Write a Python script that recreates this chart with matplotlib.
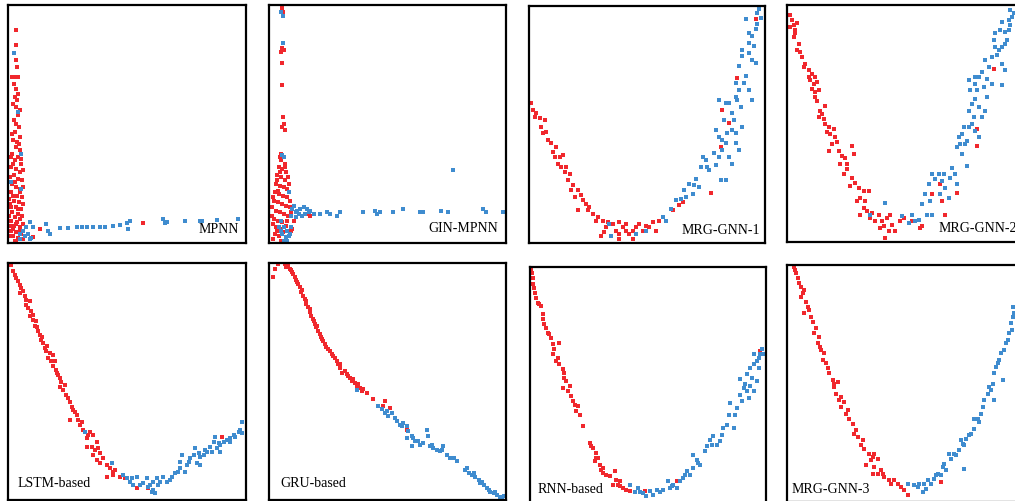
import matplotlib
matplotlib.use("Agg")
import matplotlib.pyplot as plt

plt.rcParams['font.family'] = ['Liberation Serif', 'DejaVu Serif']

RED = '#f0282d'
BLUE = '#3f8ccf'

# t-SNE embedding coordinates (arbitrary units, y grows downward)
mpnn_red = [(48,90),(50,135),(48,180),(52,200),(45,230),(55,230),(42,250),(50,265),(45,290),(52,300),
            (48,320),(55,345),(42,360),(50,370),(58,380),(45,395),(62,410),(40,420),(52,425),(48,440),
            (60,450),(38,460),(55,470),(45,480),(65,490),(35,500),(50,505),(60,515),(42,525),(55,535),
            (68,540),(38,550),(48,560),(62,565),(35,575),(52,585),(66,590),(42,600),(58,605),(30,610),
            (48,620),(65,625),(38,635),(55,640),(45,650),(62,655),(35,660),(52,665),(42,675),(60,680),
            (35,690),(50,695),(65,700),(40,705),(55,712),(45,720),(100,710),(120,685),(428,668),
            (36,400),(58,430),(34,470),(64,475),(40,490),(70,510),(32,530),(47,545),(70,560),(40,585),
            (60,575),(28,595),(70,610),(35,620),(55,625),(28,645),(68,645),(48,670),(30,675),(70,670),
            (40,685),(60,692),(30,705),(70,715),(50,725),(38,230),(55,280),(40,310),(60,330)]
mpnn_blue = [(42,158),(55,335),(65,460),(35,545),(65,565),(60,700),(70,690),(80,680),(60,715),(90,715),
             (75,705),(90,665),(100,680),(85,700),(95,712),(140,670),(145,690),(150,700),(180,683),(205,683),
             (230,680),(245,680),(260,680),(280,678),(300,678),(315,678),(340,675),(360,672),(380,668),
             (385,685),(390,662),(490,655),(495,668),(500,665),(555,662),(600,660),(605,662),(650,658),(712,655)]

gin_red = [(65,25),(68,35),(65,145),(70,150),(62,155),(65,190),(65,255),(67,350),(70,370),(65,380),
           (72,390),(62,460),(68,470),(60,480),(72,490),(55,500),(65,505),(75,515),(50,525),(62,530),
           (72,540),(45,550),(58,555),(70,560),(80,565),(42,575),(55,580),(68,585),(78,590),(40,600),
           (52,605),(65,610),(75,615),(88,620),(45,630),(58,635),(70,640),(82,645),(40,655),(52,660),
           (65,665),(100,660),(45,680),(58,685),(95,685),(90,690),(42,700),(55,705),(150,645),(140,640),
           (48,540),(85,550),(38,590),(88,600),(35,620),(92,635),(35,645),(78,660),(36,670),(75,675),
           (50,690),(68,695),(38,715),(62,720),(58,470),(74,500),(58,515),(82,530),(52,570)]
gin_blue = [(62,35),(68,48),(68,128),(65,465),(70,470),(60,660),(55,680),(85,575),(100,615),(95,625),
            (110,630),(120,625),(130,620),(140,625),(150,630),(115,640),(125,645),(135,640),(90,645),(105,650),
            (70,680),(80,690),(65,700),(75,710),(85,705),(90,680),(70,720),(180,640),(200,635),(210,640),
            (240,635),(230,645),(310,635),(345,630),(350,640),(360,635),(400,633),(430,625),(480,635),
            (490,635),(545,630),(565,635),(580,508),(670,625),(680,635),(730,635),
            (145,635),(105,635),(160,640),(60,690),(88,700),(80,720)]

mrg1_red = [(35,310),(40,330),(50,340),(60,355),(75,360),(65,380),(70,400),(80,395),(95,430),(110,440),
            (100,455),(120,470),(130,465),(115,490),(140,500),(150,520),(135,515),(160,555),(175,570),
            (165,590),(190,600),(200,610),(210,620),(175,630),(220,640),(235,650),(250,660),(265,665),
            (280,670),(300,665),(310,680),(320,690),(300,700),(330,700),(350,680),(360,670),(380,675),
            (400,665),(420,660),(410,690),(245,705),(300,715),(340,715),(460,630),(480,615),(490,605),
            (575,578),(610,330),(605,440),(630,370),(655,235),(710,60),
            (45,350),(85,420),(105,470),(125,500),(145,540),(155,570),(185,585),(205,630),(230,660),
            (260,680),(290,690),(320,670),(340,690),(370,690),(390,680),(255,695)]
mrg1_blue = [(270,670),(275,705),(350,700),(380,690),(430,650),(440,660),(470,600),(485,595),(500,590),
             (520,580),(540,560),(510,550),(530,535),(545,500),(560,480),(570,510),(590,495),(550,470),
             (600,470),(620,540),(605,540),(590,390),(600,410),(640,390),(610,420),(620,430),(650,400),
             (670,380),(660,450),(640,490),(600,300),(620,310),(650,290),(660,270),(690,270),(700,300),
             (665,320),(660,200),(670,170),(690,130),(700,180),(700,110),(710,90),(715,40),(720,30),
             (725,55),(680,60),(690,100),(670,150),(650,250),(675,250),(710,190),(640,340),(630,310),
             (455,625),(495,570),(525,555),(565,500),(585,460),(610,450),(625,400),(615,360),(645,360),
             (655,300),(680,230),(690,160),(705,140),(715,75),(650,430),(630,470)]

mrg2_red = [(45,45),(50,60),(55,75),(60,90),(45,80),(65,70),(60,100),(70,130),(65,150),(75,155),
            (80,170),(90,190),(100,210),(110,220),(120,230),(105,240),(115,250),(125,245),(110,265),
            (130,270),(120,290),(125,300),(150,315),(135,330),(130,350),(145,355),(150,370),(160,380),
            (175,385),(165,400),(180,410),(170,430),(185,425),(160,450),(200,465),(210,470),(230,435),
            (235,460),(195,490),(215,490),(205,520),(230,530),(240,545),(250,560),(265,570),(280,570),
            (255,590),(265,620),(255,640),(275,630),(290,635),(310,640),(320,660),(335,650),(345,640),
            (315,680),(340,690),(330,710),(350,670),(375,660),(385,650),(410,660),(435,680),(440,675),
            (470,580),(495,550),(545,575),(500,600),(510,640),(605,385),(605,435),(655,205),
            (55,110),(85,200),(100,230),(118,275),(140,340),(155,395),(190,450),(215,505),(225,555),
            (270,600),(285,650),(300,660),(325,675),(360,690),(245,600)]
mrg2_blue = [(285,640),(330,605),(380,645),(410,640),(420,660),(430,655),(440,610),(455,640),(450,580),
             (460,550),(470,520),(480,535),(500,540),(510,560),(495,580),(520,590),(530,500),(540,520),
             (545,550),(505,520),(575,495),(545,440),(550,410),(560,400),(570,430),(580,380),(590,370),
             (600,390),(610,410),(575,420),(560,460),(580,330),(590,310),(600,295),(610,320),(620,350),
             (630,330),(635,290),(585,270),(580,240),(600,230),(610,230),(600,250),(620,215),(635,235),
             (650,250),(680,255),(630,180),(650,170),(660,140),(670,150),(680,140),(655,120),(660,100),
             (675,90),(690,95),(700,90),(705,75),(710,50),(715,40),(680,65),(695,120),(680,190),(690,210),(705,30),
             (465,600),(490,520),(525,530),(555,430),(565,380),(595,350),(605,270),(625,260),(640,200),
             (665,165),(690,130),(700,60),(470,640),(400,665)]

lstm_red = [(35,30),(40,50),(50,70),(55,80),(60,90),(65,100),(70,110),(75,125),(80,135),(90,140),
            (85,160),(95,170),(90,185),(100,195),(110,200),(105,215),(115,230),(120,240),(125,255),
            (130,265),(135,280),(140,290),(150,295),(145,310),(160,300),(165,320),(160,335),(170,345),
            (175,360),(180,370),(185,380),(180,395),(190,405),(200,420),(210,440),(215,455),(220,465),
            (230,480),(235,495),(210,495),(240,510),(250,525),(270,530),(280,540),(260,550),(290,560),
            (275,575),(295,580),(260,575),(300,595),(280,600),(290,615),(300,625),(320,630),(330,640),
            (345,645),(340,660),(320,665),(360,665),(375,670),(410,700),(445,700),(665,545),
            (45,60),(62,115),(80,150),(100,180),(112,218),(127,248),(142,275),(155,320),(172,355),
            (195,390),(205,430),(225,470),(245,500),(265,540),(285,585),(310,610),(340,650)]
lstm_blue = [(255,530),(335,625),(370,660),(380,670),(390,680),(400,690),(410,665),(420,690),(430,685),
             (440,670),(450,690),(460,680),(460,705),(465,715),(470,670),(480,680),(490,665),(500,680),
             (515,665),(525,655),(540,640),(545,600),(555,650),(560,630),(570,610),(580,600),(585,580),
             (590,625),(600,605),(610,600),(620,590),(630,575),(640,560),(645,545),(650,580),(655,565),
             (660,590),(670,560),(680,555),(690,550),(700,540),(715,530),(725,500),(725,535),(600,630),(540,620),
             (395,670),(445,695),(475,690),(510,675),(535,650),(565,620),(595,595),(615,585),(635,590),
             (660,570),(690,560),(705,545),(720,525),(455,710)]

gru_red = [(40,70),(45,45),(55,30),(75,30),(85,35),(90,45),(95,50),(100,60),(105,70),(110,80),
           (115,90),(120,100),(125,115),(130,125),(135,135),(140,150),(145,160),(150,175),(155,185),
           (160,195),(165,210),(170,220),(175,230),(180,240),(185,250),(190,260),(195,270),(200,280),
           (210,290),(215,300),(225,310),(230,320),(235,330),(240,340),(245,355),(255,350),(260,360),
           (270,370),(275,380),(285,385),(290,395),(300,400),(305,410),(310,405),(320,415),(340,435),
           (375,440),(370,455),(390,460),(440,525),
           (80,40),(98,55),(112,85),(128,110),(138,140),(152,165),(162,200),(172,215),(188,255),
           (205,285),(220,305),(240,330),(265,365),(280,375),(295,390)]
gru_blue = [(290,408),(355,455),(365,465),(375,475),(385,485),(395,475),(410,500),(420,510),(430,505),
            (440,515),(445,530),(455,545),(440,550),(465,560),(455,575),(480,570),(490,565),(500,525),
            (505,545),(510,575),(520,580),(530,585),(540,590),(550,575),(560,600),(570,610),(590,620),
            (615,645),(625,655),(635,660),(645,665),(655,675),(660,685),(670,690),(680,700),(690,710),
            (700,715),(710,720),(720,725),(730,722),
            (380,470),(405,490),(425,515),(460,550),(475,560),(515,570),(545,585),(580,610),(620,640),
            (640,655),(665,680),(685,705),(705,712),(725,728)]

rnn_red = [(35,45),(40,70),(40,90),(45,100),(50,130),(55,145),(65,155),(70,180),(75,210),(80,220),
           (85,235),(95,250),(100,270),(120,265),(100,300),(110,320),(120,330),(130,345),(135,370),
           (140,380),(130,400),(145,410),(155,425),(160,440),(175,455),(170,470),(180,480),(190,515),
           (210,565),(220,580),(230,595),(235,610),(225,620),(240,630),(250,640),(250,655),(270,665),
           (285,650),(290,675),(300,680),(295,690),(310,700),(320,705),(330,710),(375,710),(470,680),
           (720,290),(280,690),
           (38,55),(48,115),(60,150),(72,195),(90,240),(105,285),(115,310),(135,355),(150,395),
           (165,450),(215,575),(230,610),(245,645),(260,660),(300,695)]
rnn_blue = [(330,690),(345,712),(360,712),(370,715),(380,725),(390,710),(400,720),(410,705),(430,705),
            (445,680),(450,700),(460,690),(470,700),(480,680),(490,670),(500,650),(510,660),(520,640),
            (530,615),(520,600),(540,630),(560,575),(570,555),(580,545),(590,570),(600,560),(610,520),
            (620,510),(625,480),(640,520),(660,420),(665,440),(670,400),(680,410),(685,430),(690,395),
            (700,410),(710,380),(660,375),(680,360),(690,340),(700,330),(710,320),(715,340),(700,300),
            (725,285),(730,300),(645,480),(630,445),
            (355,700),(420,712),(455,695),(495,660),(535,625),(555,590),(575,570),(605,540),(650,460),
            (675,390),(695,370),(715,310),(720,300)]

mrg3_red = [(60,40),(65,60),(70,75),(80,100),(90,110),(80,130),(95,145),(100,160),(90,180),(110,190),
            (115,205),(120,240),(135,250),(130,270),(140,290),(150,300),(145,320),(155,330),(165,360),
            (175,380),(190,385),(180,400),(185,420),(195,440),(210,445),(200,460),(215,480),(225,495),
            (235,510),(240,540),(250,550),(260,575),(270,585),(285,600),(300,600),(290,620),(310,615),
            (300,640),(310,660),(320,650),(330,670),(345,680),(360,680),(370,690),(380,700),(390,710),
            (400,725),(500,685),(275,635),(295,660),
            (62,50),(75,90),(85,120),(105,170),(125,225),(138,280),(160,345),(180,390),(200,430),
            (220,470),(245,530),(265,560),(295,610),(325,660),(350,690)]
mrg3_blue = [(400,690),(420,695),(430,700),(445,715),(450,690),(460,680),(470,690),(480,675),(490,660),
             (500,665),(505,640),(515,650),(525,600),(530,615),(545,605),(555,590),(570,575),(575,555),
             (590,540),(600,525),(610,495),(620,480),(630,440),(640,420),(650,410),(655,390),(660,360),
             (665,340),(675,320),(680,300),(690,290),(700,260),(705,240),(710,210),(715,190),(715,160),
             (660,440),(685,380),(570,645),(600,495),(560,560),
             (435,690),(455,705),(485,665),(510,630),(540,600),(565,570),(585,545),(615,505),(625,460),
             (645,400),(670,330),(695,270),(712,230),(718,180)]

names = ['MPNN', 'GIN-MPNN', 'MRG-GNN-1', 'MRG-GNN-2',
         'LSTM-based', 'GRU-based', 'RNN-based', 'MRG-GNN-3']
reds = [mpnn_red, gin_red, mrg1_red, mrg2_red, lstm_red, gru_red, rnn_red, mrg3_red]
blues = [mpnn_blue, gin_blue, mrg1_blue, mrg2_blue, lstm_blue, gru_blue, rnn_blue, mrg3_blue]

# embedding extents of each panel (x range, y range)
xlims = [(25,737),(25,740),(28,738),(35,746),(25,737),(28,737),(32,737),(38,749)]
ylims = [(727,15),(727,15),(727,20),(722,15),(735,25),(735,28),(745,38),(745,35)]

W, H = 1015, 501
# panel boxes in pixels: left, top, right, bottom
boxes = [(8,5,246,243),(269,5,506,243),(529,6,765,243),(787,5,1024,242),
         (8,263,246,500),(269,263,506,500),(530,267,766,503),(787,265,1024,502)]
label_pos = [(0.97,0.03,'right'),(0.966,0.034,'right'),(0.979,0.025,'right'),(0.97,0.03,'right'),
             (0.042,0.042,'left'),(0.05,0.042,'left'),(0.03,0.03,'left'),(0.02,0.025,'left')]

fig = plt.figure(figsize=(W/100, H/100), dpi=100)
for i in range(8):
    l, t, r, b = boxes[i]
    ax = fig.add_axes([l/W, 1 - b/H, (r-l)/W, (b-t)/H])
    rx, ry = zip(*reds[i])
    bx, by = zip(*blues[i])
    ax.scatter(rx, ry, s=8, marker='s', c=RED, linewidths=0)
    ax.scatter(bx, by, s=8, marker='s', c=BLUE, linewidths=0)
    ax.set_xlim(*xlims[i])
    ax.set_ylim(*ylims[i])
    ax.set_xticks([])
    ax.set_yticks([])
    for sp in ax.spines.values():
        sp.set_linewidth(1.6)
        sp.set_color('black')
    x, y, ha = label_pos[i]
    ax.text(x, y, names[i], transform=ax.transAxes, ha=ha, va='bottom', fontsize=10)

fig.savefig('out.png', dpi=100)
